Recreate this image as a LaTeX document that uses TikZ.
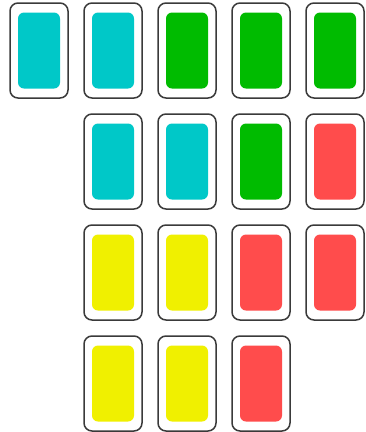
\documentclass[tikz,border=0pt]{standalone}
\usepackage{tikz}
\definecolor{cardedge}{HTML}{3A3A3A}
\definecolor{tealcard}{HTML}{00C8C8}
\definecolor{greencard}{HTML}{00BB00}
\definecolor{redcard}{HTML}{FF4C4C}
\definecolor{yellowcard}{HTML}{F0F000}

\begin{document}
\begin{tikzpicture}[x=1pt, y=-1pt,
  card/.style={draw=cardedge, line width=1.5pt, fill=white, rounded corners=8pt,
    minimum width=58pt, minimum height=95pt, inner sep=0pt},
  face/.style={fill=#1, rounded corners=6pt,
    minimum width=42pt, minimum height=76pt, inner sep=0pt}]

% canvas, same size as the reference
\useasboundingbox (0,0) rectangle (365,432);

% row / column / colour of every card
\foreach \r/\c/\col in {1/1/tealcard, 1/2/tealcard, 1/3/greencard, 1/4/greencard, 1/5/greencard,
                        2/2/tealcard, 2/3/tealcard, 2/4/greencard, 2/5/redcard,
                        3/2/yellowcard, 3/3/yellowcard, 3/4/redcard, 3/5/redcard,
                        4/2/yellowcard, 4/3/yellowcard, 4/4/redcard} {
  \node[card] (card-\r-\c) at ({39+74*(\c-1)}, {50.5+111*(\r-1)}) {};
  \node[face=\col] (face-\r-\c) at (card-\r-\c.center) {};
}

\end{tikzpicture}
\end{document}
